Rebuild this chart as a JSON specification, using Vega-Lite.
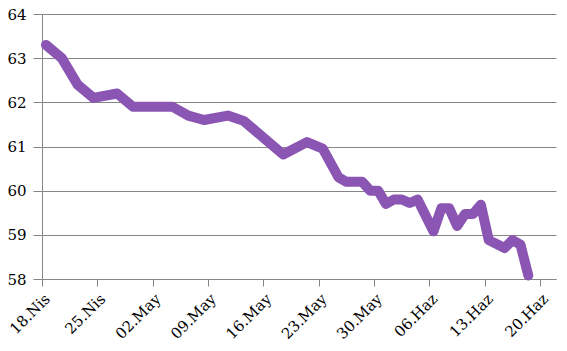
{
  "$schema": "https://vega.github.io/schema/vega-lite/v6.json",
  "autosize": "none",
  "width": 514,
  "height": 265,
  "padding": {"left": 42, "top": 14, "right": 11, "bottom": 72},
  "background": "white",
  "config": {"view": {"stroke": null}},
  "data": {
    "values": [
      {"date": "2022-04-18T00:00:00", "value": 63.3},
      {"date": "2022-04-20T00:00:00", "value": 63.0},
      {"date": "2022-04-22T00:00:00", "value": 62.4},
      {"date": "2022-04-24T00:00:00", "value": 62.1},
      {"date": "2022-04-27T00:00:00", "value": 62.2},
      {"date": "2022-04-29T00:00:00", "value": 61.9},
      {"date": "2022-05-04T00:00:00", "value": 61.9},
      {"date": "2022-05-06T00:00:00", "value": 61.7},
      {"date": "2022-05-08T00:00:00", "value": 61.6},
      {"date": "2022-05-11T00:00:00", "value": 61.7},
      {"date": "2022-05-13T00:00:00", "value": 61.58},
      {"date": "2022-05-18T00:00:00", "value": 60.82},
      {"date": "2022-05-21T00:00:00", "value": 61.1},
      {"date": "2022-05-23T00:00:00", "value": 60.95},
      {"date": "2022-05-25T00:00:00", "value": 60.3},
      {"date": "2022-05-26T00:00:00", "value": 60.2},
      {"date": "2022-05-28T00:00:00", "value": 60.2},
      {"date": "2022-05-29T00:00:00", "value": 60.0},
      {"date": "2022-05-30T00:00:00", "value": 60.0},
      {"date": "2022-05-31T00:00:00", "value": 59.7},
      {"date": "2022-06-01T00:00:00", "value": 59.8},
      {"date": "2022-06-02T00:00:00", "value": 59.8},
      {"date": "2022-06-03T00:00:00", "value": 59.72},
      {"date": "2022-06-04T00:00:00", "value": 59.8},
      {"date": "2022-06-06T00:00:00", "value": 59.08},
      {"date": "2022-06-07T00:00:00", "value": 59.6},
      {"date": "2022-06-08T00:00:00", "value": 59.6},
      {"date": "2022-06-09T00:00:00", "value": 59.2},
      {"date": "2022-06-10T00:00:00", "value": 59.47},
      {"date": "2022-06-11T00:00:00", "value": 59.47},
      {"date": "2022-06-12T00:00:00", "value": 59.68},
      {"date": "2022-06-13T00:00:00", "value": 58.88},
      {"date": "2022-06-15T00:00:00", "value": 58.7},
      {"date": "2022-06-16T00:00:00", "value": 58.88},
      {"date": "2022-06-17T00:00:00", "value": 58.78},
      {"date": "2022-06-18T00:00:00", "value": 58.08}
    ]
  },
  "mark": {"type": "line", "color": "#8b55b3", "strokeWidth": 10, "strokeCap": "round", "strokeJoin": "round"},
  "encoding": {
    "x": {
      "field": "date",
      "type": "temporal",
      "timeUnit": "yearmonthdate",
      "bandPosition": 0.5,
      "scale": {"domain": [{"year": 2022, "month": 4, "date": 18}, {"year": 2022, "month": 6, "date": 22}]},
      "axis": {
        "title": null,
        "grid": false,
        "values": [
          {"year": 2022, "month": 4, "date": 18},
          {"year": 2022, "month": 4, "date": 25},
          {"year": 2022, "month": 5, "date": 2},
          {"year": 2022, "month": 5, "date": 9},
          {"year": 2022, "month": 5, "date": 16},
          {"year": 2022, "month": 5, "date": 23},
          {"year": 2022, "month": 5, "date": 30},
          {"year": 2022, "month": 6, "date": 6},
          {"year": 2022, "month": 6, "date": 13},
          {"year": 2022, "month": 6, "date": 20}
        ],
        "labelExpr": "timeFormat(datum.value, '%d') + '.' + (month(datum.value) == 3 ? 'Nis' : month(datum.value) == 4 ? 'May' : 'Haz')",
        "labelAngle": -45,
        "labelAlign": "right",
        "labelBaseline": "top",
        "labelPadding": 5,
        "labelFont": "DejaVu Serif",
        "labelFontSize": 15,
        "labelColor": "#000000",
        "labelOverlap": false,
        "labelFlush": false,
        "domainColor": "#868686",
        "tickColor": "#868686",
        "tickSize": 7,
        "domainWidth": 1,
        "tickWidth": 1
      }
    },
    "y": {
      "field": "value",
      "type": "quantitative",
      "scale": {"domain": [58, 64], "zero": false, "nice": false},
      "axis": {
        "title": null,
        "values": [58, 59, 60, 61, 62, 63, 64],
        "grid": true,
        "gridColor": "#868686",
        "gridWidth": 1,
        "domainColor": "#868686",
        "tickColor": "#868686",
        "tickSize": 9,
        "labelPadding": 7,
        "labelFont": "DejaVu Serif",
        "labelFontSize": 15,
        "labelColor": "#000000"
      }
    }
  }
}
